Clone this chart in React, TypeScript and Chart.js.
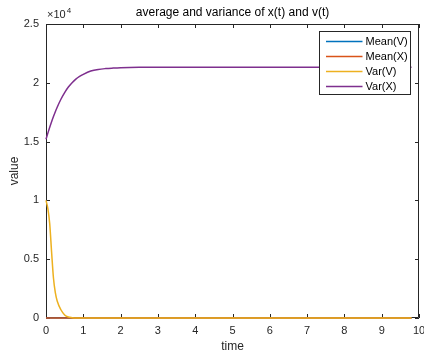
import React, { useEffect, useRef } from "react";
import { Chart, registerables } from "chart.js";

Chart.register(...registerables);

const time = [0, 0.05, 0.1, 0.15, 0.2, 0.25, 0.3, 0.4, 0.5, 0.6, 0.7, 0.8, 0.9, 1.0, 1.2, 1.4, 1.6, 1.8, 2.0, 2.5, 3, 4, 5, 6, 7, 8, 9, 9.8];
const meanV = [0, 0, 0, 0, 0, 0, 0, 0, 0, 0, 0, 0, 0, 0, 0, 0, 0, 0, 0, 0, 0, 0, 0, 0, 0, 0, 0, 0];
const meanX = [0, 0, 0, 0, 0, 0, 0, 0, 0, 0, 0, 0, 0, 0, 0, 0, 0, 0, 0, 0, 0, 0, 0, 0, 0, 0, 0, 0];
const varV = [10000, 9300, 8000, 5600, 3400, 2150, 1450, 700, 260, 80, 25, 0, 0, 0, 0, 0, 0, 0, 0, 0, 0, 0, 0, 0, 0, 0, 0, 0];
const varX = [15200, 15720, 16220, 16690, 17130, 17540, 17920, 18600, 19170, 19640, 20010, 20310, 20540, 20720, 21000, 21140, 21210, 21250, 21280, 21320, 21330, 21330, 21330, 21330, 21330, 21330, 21330, 21330];
const seriesLabels = ["Mean(V)", "Mean(X)", "Var(V)", "Var(X)"];
const seriesColors = ["#0072BD", "#D95319", "#EDB120", "#7E2F8E"];
const xTicks = [0, 1, 2, 3, 4, 5, 6, 7, 8, 9, 10];
const yTicks = [0, 5000, 10000, 15000, 20000, 25000];
const titleText = "average and variance of x(t) and v(t)";

const FONT = "'Liberation Sans', Arial, Helvetica, sans-serif";
const AX = "#262626";

const decorPlugin = {
  id: "decor",
  beforeDatasetsDraw(chart: any) {
    const { ctx, chartArea } = chart;
    const { left, right, top, bottom } = chartArea;
    const x = chart.scales.x;
    const y = chart.scales.y;
    ctx.save();
    ctx.strokeStyle = AX;
    ctx.lineWidth = 1;
    ctx.beginPath();
    ctx.rect(Math.round(left) + 0.5, Math.round(top) + 0.5, Math.round(right - left) - 1, Math.round(bottom - top) - 1);
    ctx.stroke();
    const tl = 4;
    ctx.beginPath();
    xTicks.forEach((v) => {
      const px = Math.round(x.getPixelForValue(v)) + 0.5;
      ctx.moveTo(px, bottom);
      ctx.lineTo(px, bottom - tl);
      ctx.moveTo(px, top);
      ctx.lineTo(px, top + tl);
    });
    yTicks.forEach((v) => {
      const py = Math.round(y.getPixelForValue(v)) + 0.5;
      ctx.moveTo(left, py);
      ctx.lineTo(left + tl, py);
      ctx.moveTo(right, py);
      ctx.lineTo(right - tl, py);
    });
    ctx.stroke();
    ctx.restore();
  },
  afterDraw(chart: any) {
    const { ctx, chartArea } = chart;
    const { left, right, top } = chartArea;
    ctx.save();
    // title
    ctx.fillStyle = "#000";
    ctx.textAlign = "center";
    ctx.textBaseline = "middle";
    ctx.font = `12px ${FONT}`;
    ctx.fillText(titleText, (left + right) / 2, 13);
    // exponent label
    ctx.fillStyle = AX;
    ctx.textBaseline = "alphabetic";
    ctx.textAlign = "left";
    ctx.font = `11px ${FONT}`;
    ctx.fillText("\u00d710", left + 1, top - 6);
    const w = ctx.measureText("\u00d710").width;
    ctx.font = `8px ${FONT}`;
    ctx.fillText("4", left + 1 + w + 1, top - 11);
    // legend
    const bx = 319.5, by = 31.5, bw = 91, bh = 63;
    ctx.fillStyle = "#ffffff";
    ctx.fillRect(bx, by, bw, bh);
    ctx.strokeStyle = AX;
    ctx.lineWidth = 1;
    ctx.strokeRect(bx, by, bw, bh);
    ctx.font = `11px ${FONT}`;
    ctx.textBaseline = "middle";
    chart.data.datasets.forEach((ds: any, i: number) => {
      const ry = 41.5 + i * 15;
      ctx.strokeStyle = ds.borderColor;
      ctx.lineWidth = 1.5;
      ctx.beginPath();
      ctx.moveTo(bx + 6.5, ry);
      ctx.lineTo(bx + 43, ry);
      ctx.stroke();
      ctx.fillStyle = "#000";
      ctx.fillText(ds.label, bx + 46, ry + 0.5);
    });
    ctx.restore();
  },
};

export default function App() {
  const ref = useRef<HTMLCanvasElement | null>(null);
  useEffect(() => {
    if (!ref.current) return;
    const mk = (vals: number[]) => time.map((t, i) => ({ x: t, y: vals[i] }));
    const all = [meanV, meanX, varV, varX];
    const chart = new Chart(ref.current, {
      type: "line",
      data: {
        datasets: all.map((vals, i) => ({
          label: seriesLabels[i],
          data: mk(vals),
          borderColor: seriesColors[i],
          backgroundColor: seriesColors[i],
          borderWidth: 1.5,
          pointRadius: 0,
          cubicInterpolationMode: "monotone" as const,
          fill: false,
          clip: 3,
          order: all.length - 1 - i,
        })),
      },
      options: {
        responsive: false,
        animation: false,
        devicePixelRatio: 1,
        layout: { padding: { left: 0, right: 5, top: 24, bottom: 0 } },
        plugins: {
          legend: { display: false },
          tooltip: { enabled: false },
          title: { display: false },
        },
        scales: {
          x: {
            type: "linear",
            min: 0,
            max: 10,
            grid: { display: false, drawTicks: false, tickLength: 0 },
            border: { display: false },
            afterFit: (s: any) => {
              s.height = 38;
              s.paddingLeft = 0;
              s.paddingRight = 0;
            },
            afterBuildTicks: (s: any) => {
              s.ticks = xTicks.map((v) => ({ value: v }));
            },
            ticks: {
              color: AX,
              font: { family: FONT, size: 11 },
              padding: 6,
              maxRotation: 0,
              autoSkip: false,
            },
            title: {
              display: true,
              text: "time",
              color: AX,
              font: { family: FONT, size: 12 },
              padding: { top: 2, bottom: 2 },
            },
          },
          y: {
            type: "linear",
            min: 0,
            max: 25000,
            grid: { display: false, drawTicks: false, tickLength: 0 },
            border: { display: false },
            afterFit: (s: any) => {
              s.width = 46;
              s.paddingTop = 0;
              s.paddingBottom = 0;
            },
            afterBuildTicks: (s: any) => {
              s.ticks = yTicks.map((v) => ({ value: v }));
            },
            ticks: {
              color: AX,
              font: { family: FONT, size: 11 },
              padding: 7,
              callback: (v: any) => String(Number(v) / 10000),
            },
            title: {
              display: true,
              text: "value",
              color: AX,
              font: { family: FONT, size: 12 },
              padding: { top: 7, bottom: 0 },
            },
          },
        },
      },
      plugins: [decorPlugin],
    });
    return () => chart.destroy();
  }, []);
  return (
    <div style={{ position: "fixed", left: 0, top: 0, width: 424, height: 356, background: "#fff" }}>
      <canvas ref={ref} width={424} height={356} style={{ width: 424, height: 356, display: "block" }} />
    </div>
  );
}
